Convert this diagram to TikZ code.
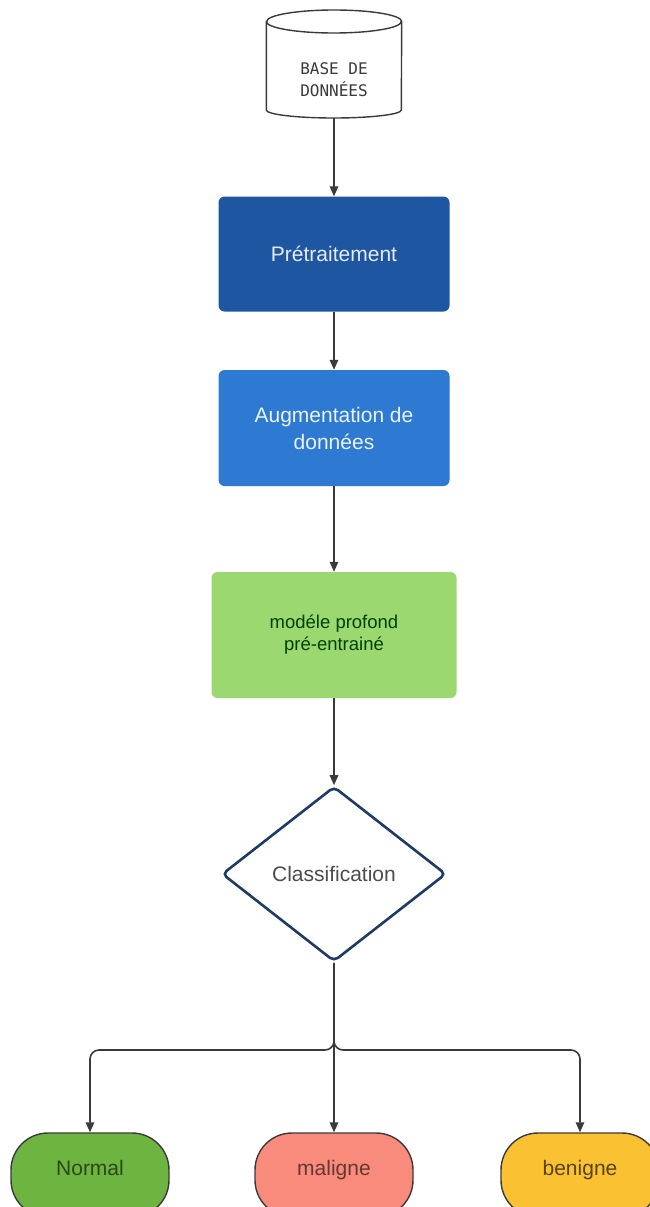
\documentclass[tikz,border=0pt]{standalone}
\usepackage{fontspec}
\setmainfont{Liberation Sans}
\newfontfamily\dbfont{DejaVu Sans Mono}
\usetikzlibrary{shapes.geometric,arrows.meta}

\definecolor{linegray}{HTML}{3A3A3A}
\definecolor{darkblue}{HTML}{1F56A2}
\definecolor{midblue}{HTML}{2E7AD2}
\definecolor{lightgreen}{HTML}{9CD870}
\definecolor{navy}{HTML}{1E3A66}
\definecolor{okgreen}{HTML}{6DB440}
\definecolor{salmon}{HTML}{F98B7C}
\definecolor{amber}{HTML}{FAC233}

\tikzset{
  conn/.style={draw=linegray, line width=1.6pt, -{Triangle[length=10pt,width=8.5pt]}},
  fork/.style={draw=linegray, line width=1.6pt, rounded corners=9pt, -{Triangle[length=10pt,width=8.5pt]}},
  procbox/.style={rectangle, rounded corners=6pt, inner sep=0pt, align=center,
    font=\fontsize{21}{27}\selectfont},
  endbox/.style={rectangle, rounded corners=37pt, draw=linegray, line width=1.4pt,
    minimum width=158pt, minimum height=84pt, inner sep=0pt},
  endtext/.style={font=\fontsize{21}{25}\selectfont, text height=15pt, text depth=4.5pt, inner sep=0pt},
}

\begin{document}
\begin{tikzpicture}[x=1pt,y=-1pt]
\useasboundingbox (0,0) rectangle (650,1207);
\clip (0,0) rectangle (650,1207);
\fill[white] (0,0) rectangle (650,1207);

% data store: frame node plus drawn cylinder outline
\node[rectangle, minimum width=135pt, minimum height=108pt, inner sep=0pt]
      (db) at (334,64) {};
\draw[linegray, line width=1.4pt, fill=white]
  (db.west |- 0,21.5) -- (db.west |- 0,110)
  arc[start angle=180, end angle=360, x radius=67.5pt, y radius=8pt]
  -- (db.east |- 0,21.5)
  arc[start angle=0, end angle=180, x radius=67.5pt, y radius=11.5pt] -- cycle;
\draw[linegray, line width=1.4pt]
  (db.west |- 0,21.5) arc[start angle=180, end angle=360, x radius=67.5pt, y radius=11.5pt];
\node[font=\dbfont\fontsize{16}{22}\selectfont, text=linegray, align=center]
      (dbtext) at (334,80) {BASE DE\\DONNÉES};

% processing steps
\node[procbox, fill=darkblue, text=white!88!darkblue, minimum width=231pt, minimum height=115pt]
      (pre) at (334,254) {Prétraitement};
\node[procbox, fill=midblue, text=white!90!midblue, minimum width=231pt, minimum height=116pt]
      (aug) at (334,428) {Augmentation de\\données};
\node[procbox, fill=lightgreen, text=green!25!black, minimum width=245pt, minimum height=126pt,
      font=\fontsize{18.5}{22}\selectfont]
      (model) at (334,635) {modéle profond\\pré-entrainé};

% decision
\node[diamond, draw=navy, line width=2.6pt, fill=white, rounded corners=5pt,
      minimum width=224pt, minimum height=175pt, inner sep=0pt,
      text=black!70, font=\fontsize{21}{25}\selectfont]
      (cls) at (334,874) {Classification};

% outcomes
\node[endbox, fill=okgreen] (nrm) at (90,1175) {};
\node[endbox, fill=salmon] (mal) at (334,1175) {};
\node[endbox, fill=amber] (ben) at (580,1175) {};
\node[endtext, text=okgreen!40!black] (nrmt) at (90,1170) {Normal};
\node[endtext, text=salmon!40!black] (malt) at (334,1170) {maligne};
\node[endtext, text=amber!35!black] (bent) at (580,1170) {benigne};

% connectors
\draw[conn] (db.south) -- (pre.north);
\draw[conn] (pre.south) -- (aug.north);
\draw[conn] (aug.south) -- (model.north);
\draw[conn] (model.south) -- (cls.north);

\coordinate (split) at (334,1050);
\draw[fork] (cls.south) -- (split) -| (nrm.north);
\draw[fork] (cls.south) -- (split) -| (ben.north);
\draw[conn] (cls.south) -- (mal.north);
\end{tikzpicture}
\end{document}
